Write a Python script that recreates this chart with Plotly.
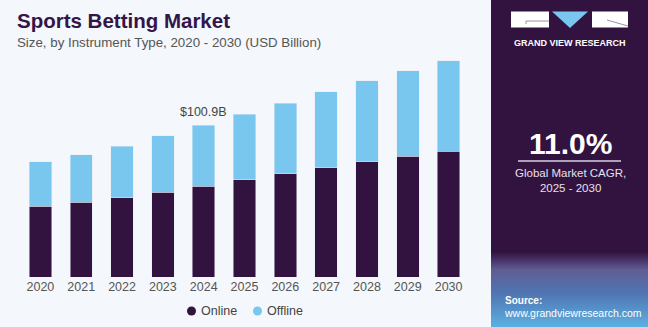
import plotly.graph_objects as go

# Sports betting market size by instrument type (USD billion)
years = ["2020", "2021", "2022", "2023", "2024", "2025", "2026", "2027", "2028", "2029", "2030"]
online = [47.0, 49.7, 52.8, 56.5, 60.5, 64.8, 68.8, 72.8, 76.8, 80.3, 83.8]
offline = [29.5, 31.7, 34.3, 37.3, 40.4, 43.4, 46.9, 50.3, 53.8, 57.0, 60.2]
series_names = ["Online", "Offline"]
label_year = "2024"
cagr_text = "11.0%"

W, H = 648, 327
ML, MR, MT, MB = 20, 179, 50, 50
PW, PH = W - ML - MR, H - MT - MB

DARK = "#32133f"
LIGHT = "#79c6ef"
BG = "#f4f7fb"
FONT = "Liberation Sans"


def px(x):
    return (x - ML) / PW


def py(y):
    return (H - MB - y) / PH


fig = go.Figure()
fig.add_bar(x=years, y=online, marker_color=DARK, name=series_names[0])
fig.add_bar(x=years, y=offline, marker_color=LIGHT, name=series_names[1])

shapes = []
annotations = []

# value label above the highlighted year (category index used as x position)
i = years.index(label_year)
total = online[i] + offline[i]
annotations.append(dict(xref="x", yref="y", x=i, y=total, text=f"${total:.1f}B", showarrow=False,
                        yanchor="bottom", yshift=4,
                        font=dict(family=FONT, size=12.5, color="#444444")))

# legend: dot + label per series
for (cx, tx), name, col in zip([(191.5, 198.5), (257.5, 264.5)], series_names, [DARK, LIGHT]):
    shapes.append(dict(type="circle", xref="paper", yref="paper",
                       x0=px(cx - 4.5), x1=px(cx + 4.5), y0=py(315.5), y1=py(306.5),
                       fillcolor=col, line_width=0))
    annotations.append(dict(xref="paper", yref="paper", x=px(tx), y=py(311), text=name,
                            showarrow=False, xanchor="left", yanchor="middle",
                            font=dict(family=FONT, size=12.5, color="#444444")))

# right-hand dark panel
shapes.append(dict(type="rect", xref="paper", yref="paper", x0=px(491), x1=px(W + 2),
                   y0=py(H + 2), y1=py(-2), fillcolor=DARK, line_width=0, layer="below"))


def lerp(c1, c2, t):
    a = [int(c1[k:k + 2], 16) for k in (1, 3, 5)]
    b = [int(c2[k:k + 2], 16) for k in (1, 3, 5)]
    return "#" + "".join(f"{round(a[j] + (b[j] - a[j]) * t):02x}" for j in range(3))


# gradient strip behind the source note
stops = [(252, DARK), (262, "#4a3a72"), (270, "#605e92"), (292, "#4f73b0"), (327, "#5cb0e2")]
for k in range(len(stops) - 1):
    y0, c0 = stops[k]
    y1, c1 = stops[k + 1]
    n = max(1, (y1 - y0))
    for s in range(n):
        ya = y0 + (y1 - y0) * s / n
        yb = y0 + (y1 - y0) * (s + 1) / n
        shapes.append(dict(type="rect", xref="paper", yref="paper", x0=px(491), x1=px(W + 2),
                           y0=py(yb + 0.5), y1=py(ya), fillcolor=lerp(c0, c1, (s + 0.5) / n),
                           line_width=0, layer="below"))

# logo blocks
shapes.append(dict(type="rect", xref="paper", yref="paper", x0=px(511), x1=px(549),
                   y0=py(27.5), y1=py(11.5), fillcolor="white", line_width=0))
shapes.append(dict(type="path", xref="paper", yref="paper",
                   path=f"M {px(552)},{py(11.5)} L {px(588)},{py(11.5)} L {px(570)},{py(28)} Z",
                   fillcolor=LIGHT, line_width=0))
shapes.append(dict(type="rect", xref="paper", yref="paper", x0=px(592), x1=px(628),
                   y0=py(27.5), y1=py(11.5), fillcolor="white", line_width=0))
shapes.append(dict(type="path", xref="paper", yref="paper",
                   path=f"M {px(526)},{py(24)} L {px(526)},{py(21)} L {px(549)},{py(21)}",
                   line=dict(color="#9a8fb0", width=1)))
shapes.append(dict(type="path", xref="paper", yref="paper",
                   path=f"M {px(607)},{py(20)} L {px(628)},{py(26)}",
                   line=dict(color="#9a8fb0", width=1)))
annotations.append(dict(xref="paper", yref="paper", x=px(570), y=py(42.5), text="<b>GRAND VIEW RESEARCH</b>",
                        showarrow=False, xanchor="center", yanchor="middle",
                        font=dict(family=FONT, size=9, color="white")))

# CAGR callout
annotations.append(dict(xref="paper", yref="paper", x=px(570), y=py(143), text=cagr_text,
                        showarrow=False, xanchor="center", yanchor="middle",
                        font=dict(family=FONT, size=30, color="white", weight=600)))
shapes.append(dict(type="line", xref="paper", yref="paper", x0=px(518), x1=px(621),
                   y0=py(161), y1=py(161), line=dict(color="#d8d0e0", width=1.5)))
annotations.append(dict(xref="paper", yref="paper", x=px(570), y=py(180.5),
                        text="Global Market CAGR,<br>2025 - 2030",
                        showarrow=False, xanchor="center", yanchor="middle", align="center",
                        font=dict(family=FONT, size=11.5, color="#e6e0ec")))

# source note
annotations.append(dict(xref="paper", yref="paper", x=px(503), y=py(300), text="<b>Source:</b>",
                        showarrow=False, xanchor="left", yanchor="middle",
                        font=dict(family=FONT, size=10, color="white")))
annotations.append(dict(xref="paper", yref="paper", x=px(502), y=py(312.5), text="www.grandviewresearch.com",
                        showarrow=False, xanchor="left", yanchor="middle",
                        font=dict(family=FONT, size=10.5, color="white")))

# titles
annotations.append(dict(xref="paper", yref="paper", x=px(15), y=py(20), text="<b>Sports Betting Market</b>",
                        showarrow=False, xanchor="left", yanchor="middle",
                        font=dict(family=FONT, size=20.5, color="#33154a")))
annotations.append(dict(xref="paper", yref="paper", x=px(15), y=py(42.5),
                        text="Size, by Instrument Type, 2020 - 2030 (USD Billion)",
                        showarrow=False, xanchor="left", yanchor="middle",
                        font=dict(family=FONT, size=13.3, color="#555555")))

fig.update_layout(
    width=W, height=H, autosize=False,
    margin=dict(l=ML, r=MR, t=MT, b=MB, pad=0, autoexpand=False),
    paper_bgcolor=BG, plot_bgcolor=BG,
    barmode="stack", bargap=0.45,
    shapes=shapes,
    annotations=annotations,
    showlegend=False,
    xaxis=dict(type="category", range=[-0.5, len(years) - 0.5], showgrid=False, zeroline=False,
               showline=False, ticks="", tickfont=dict(family=FONT, size=12.5, color="#555555")),
    yaxis=dict(range=[0, PH * 100.9 / 151.7], visible=False, showgrid=False, zeroline=False),
    font=dict(family=FONT),
)

fig.write_html("out.html")
